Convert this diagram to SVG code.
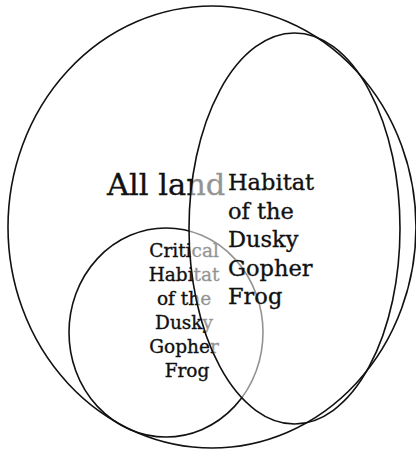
<svg xmlns="http://www.w3.org/2000/svg" width="416" height="452" viewBox="0 0 416 452">
<style>
.shape{fill:none;stroke:#111;stroke-width:1.6}
.veil{fill:#fff;fill-opacity:0.55;stroke:#111;stroke-width:1.6}
.t{font-family:"DejaVu Serif","Liberation Serif",serif;fill:#111;stroke:#111;stroke-width:0.35}
</style>
<rect width="416" height="452" fill="#fff"/>
<g id="all-land-label">
<text class="t" x="107" y="195" font-size="30.5">All land</text>
</g>
<g id="critical-habitat">
<ellipse class="shape" cx="166" cy="332.5" rx="97" ry="104.5"/>
<text class="t" font-size="18.5" text-anchor="middle">
<tspan x="187" y="257">Critical</tspan>
<tspan x="187" y="281">Habitat</tspan>
<tspan x="187" y="305">of the</tspan>
<tspan x="187" y="329">Dusky</tspan>
<tspan x="187" y="353">Gopher</tspan>
<tspan x="187" y="377">Frog</tspan>
</text>
</g>
<g id="habitat">
<ellipse class="veil" cx="294.5" cy="228.5" rx="105.5" ry="195.5"/>
<text class="t" font-size="22.5">
<tspan x="228" y="190">Habitat</tspan>
<tspan x="228" y="218.5">of the</tspan>
<tspan x="228" y="247">Dusky</tspan>
<tspan x="228" y="275.5">Gopher</tspan>
<tspan x="228" y="304">Frog</tspan>
</text>
</g>
<g id="all-land">
<ellipse class="shape" cx="212" cy="227" rx="204" ry="221"/>
</g>
<g id="connectors"></g>
</svg>
